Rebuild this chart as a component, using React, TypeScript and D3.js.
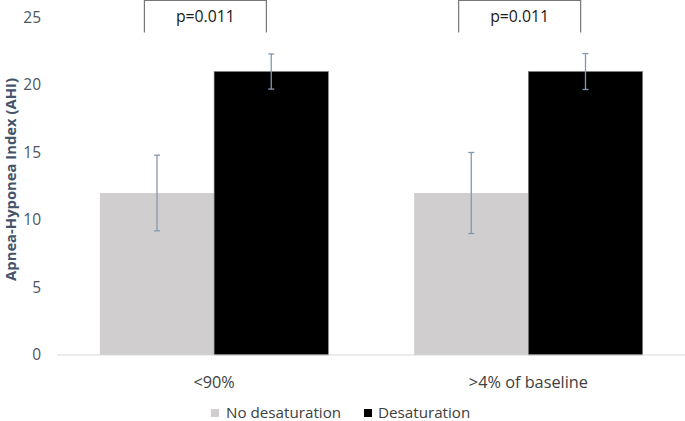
import React from "react";
import * as d3 from "d3";

const categories = ["<90%", ">4% of baseline"];
const seriesNames = ["No desaturation", "Desaturation"];
const noDesat = [12, 12];
const noDesatErr = [2.8, 3.0];
const desat = [21, 21];
const desatErr = [1.3, 1.33];
const yTicks = [0, 5, 10, 15, 20, 25];
const pLabels = ["p=0.011", "p=0.011"];

const W = 685;
const H = 421;
const colors = ["#d0cece", "#000000"];
const errColor = "#8497b0";
const font = "'Open Sans', 'Noto Sans', sans-serif";

export default function App() {
  const x = d3.scaleBand<string>().domain(categories).range([57, 685.5]).paddingInner(0).paddingOuter(0);
  const y = d3.scaleLinear().domain([0, 25]).range([355, 17.5]);
  const groupW = x.bandwidth() * 0.727;
  const inner = d3.scaleBand<string>().domain(seriesNames).range([0, groupW]);
  const series = [
    { name: seriesNames[0], vals: noDesat, errs: noDesatErr },
    { name: seriesNames[1], vals: desat, errs: desatErr },
  ];
  return (
    <svg width={W} height={H} style={{ position: "absolute", left: 0, top: 0, background: "#fff" }} fontFamily={font}>
      {yTicks.map((t) => (
        <text key={t} x={41} y={y(t)} dy="0.35em" textAnchor="end" fontSize={15.5} fill="#4d5666">
          {t}
        </text>
      ))}
      <text
        transform={`translate(11,${y(13)}) rotate(-90)`}
        textAnchor="middle"
        dy="0.35em"
        fontSize={14.8}
        fontWeight="bold"
        fill="#44546a"
      >
        Apnea-Hyponea Index (AHI)
      </text>
      {categories.map((c, ci) => {
        const gx = (x(c) as number) + (x.bandwidth() - groupW) / 2;
        return (
          <g key={c}>
            {series.map((s, si) => {
              const bx = gx + (inner(s.name) as number);
              return (
                <rect
                  key={s.name}
                  x={bx}
                  y={y(s.vals[ci])}
                  width={inner.bandwidth()}
                  height={y(0) - y(s.vals[ci])}
                  fill={colors[si]}
                  stroke={si === 1 ? "#7f7f7f" : "none"}
                  strokeWidth={si === 1 ? 0.6 : 0}
                />
              );
            })}
            {series.map((s, si) => {
              const cx = gx + (inner(s.name) as number) + inner.bandwidth() / 2;
              const top = y(s.vals[ci] + s.errs[ci]);
              const bot = y(s.vals[ci] - s.errs[ci]);
              return (
                <g key={"e" + s.name} stroke={errColor} strokeWidth={1.3}>
                  <line x1={cx} x2={cx} y1={top} y2={bot} />
                  <line x1={cx - 3} x2={cx + 3} y1={top} y2={top} />
                  <line x1={cx - 3} x2={cx + 3} y1={bot} y2={bot} />
                </g>
              );
            })}
            <text x={(x(c) as number) + x.bandwidth() / 2} y={382} dy="0.35em" textAnchor="middle" fontSize={16.3} fill="#404040">
              {c}
            </text>
            {(() => {
              const bx0 = gx + 44.5;
              const bx1 = gx + 166.5;
              return (
                <g>
                  <path d={`M${bx0},32.5V0.5H${bx1}V32.5`} fill="none" stroke="#767676" strokeWidth={1.2} />
                  <text x={(bx0 + bx1) / 2} y={16} dy="0.35em" textAnchor="middle" fontSize={15.8} fill="#1a1a1a">
                    {pLabels[ci]}
                  </text>
                </g>
              );
            })()}
          </g>
        );
      })}
      <line x1={57} x2={685} y1={355} y2={355} stroke="#d9d9d9" strokeWidth={1} />
      <g>
        <rect x={211} y={409} width={8} height={8} fill={colors[0]} />
        <text x={226} y={413} dy="0.35em" fontSize={15.2} fill="#404040">
          {seriesNames[0]}
        </text>
        <rect x={364} y={409} width={8} height={8} fill={colors[1]} />
        <text x={378} y={413} dy="0.35em" fontSize={15.2} fill="#404040">
          {seriesNames[1]}
        </text>
      </g>
    </svg>
  );
}
